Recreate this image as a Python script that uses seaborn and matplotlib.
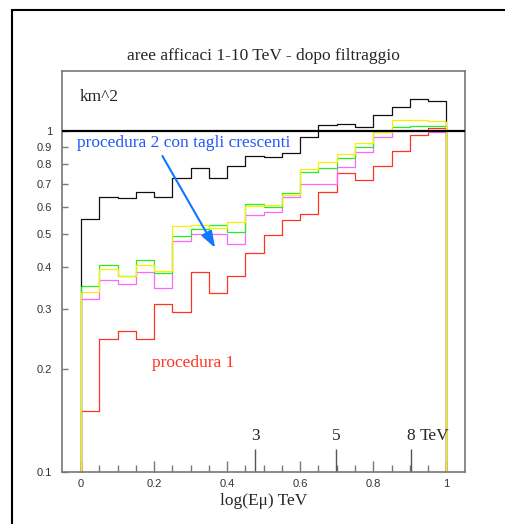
import numpy as np
import pandas as pd
import matplotlib
matplotlib.use("Agg")
import matplotlib.pyplot as plt
from matplotlib.patches import Rectangle
from matplotlib.ticker import FixedLocator
import seaborn as sns

# ---- data -------------------------------------------------------------
bin_edges = [round(v, 2) for v in np.linspace(0.0, 1.0, 21)]   # log10(E_mu / TeV)
black = [0.552, 0.641, 0.635, 0.661, 0.639, 0.726, 0.779, 0.726, 0.790, 0.847,
         0.838, 0.865, 0.963, 1.043, 1.052, 1.026, 1.116, 1.175, 1.244, 1.221]
red = [0.151, 0.245, 0.260, 0.245, 0.310, 0.294, 0.386, 0.336, 0.376, 0.438,
       0.496, 0.548, 0.571, 0.664, 0.751, 0.720, 0.792, 0.873, 0.975, 1.019]
magenta = [0.321, 0.366, 0.357, 0.387, 0.347, 0.476, 0.499, 0.499, 0.466, 0.567,
           0.580, 0.639, 0.699, 0.699, 0.787, 0.866, 0.963, 0.997, 0.997, 0.992]
green = [0.350, 0.404, 0.376, 0.418, 0.384, 0.493, 0.516, 0.530, 0.504, 0.611,
         0.600, 0.658, 0.760, 0.777, 0.832, 0.896, 0.992, 1.031, 1.038, 1.038]
yellow = [0.337, 0.395, 0.376, 0.404, 0.389, 0.527, 0.531, 0.518, 0.541, 0.601,
          0.607, 0.649, 0.774, 0.809, 0.857, 0.925, 0.992, 1.079, 1.074, 1.070]
y_ticks = [0.1, 0.2, 0.3, 0.4, 0.5, 0.6, 0.7, 0.8, 0.9, 1.0]
y_tick_labels = ["0.1", "0.2", "0.3", "0.4", "0.5", "0.6", "0.7", "0.8", "0.9", "1"]
x_ticks = [0.0, 0.2, 0.4, 0.6, 0.8, 1.0]
x_tick_labels = ["0", "0.2", "0.4", "0.6", "0.8", "1"]
energy_marks = [3, 5, 8]
energy_labels = ["3", "5", "8"]

series = [("black", black, "#111111"),
          ("red", red, "#ff3322"),
          ("magenta", magenta, "#ff66ff"),
          ("green", green, "#22ee22"),
          ("yellow", yellow, "#f5f000")]

edges_arr = np.array(bin_edges)
centers = (edges_arr[:-1] + edges_arr[1:]) / 2

# ---- figure ------------------------------------------------------------
sns.set_style("ticks")
plt.rcParams["font.family"] = ["Liberation Sans", "DejaVu Sans"]
fig = plt.figure(figsize=(5.05, 5.24), dpi=100)
ax = fig.add_axes([62 / 505, 1 - 472 / 524, 403 / 505, 401 / 524])

for name, vals, col in series:
    df = pd.DataFrame({"x": centers, "w": vals})
    sns.histplot(data=df, x="x", weights="w", bins=bin_edges, element="step",
                 fill=False, color=col, linewidth=0.9, ax=ax)

ax.set_yscale("log")
ax.set_xlim(-0.052, 1.051)
ax.set_ylim(0.1, 1.5)

# edge verticals of the histograms down to the baseline (ROOT style)
for name, vals, col in series:
    ax.vlines([bin_edges[0], bin_edges[-1]], 0.1, [vals[0], vals[-1]],
              colors=col, linewidth=0.9)

# horizontal reference at 1 km^2
ax.axhline(1.0, color="black", linewidth=1.6, zorder=5)

# ticks
ax.yaxis.set_major_locator(FixedLocator(y_ticks))
ax.set_yticklabels(y_tick_labels)
ax.yaxis.set_minor_locator(FixedLocator([]))
ax.set_xticks(x_ticks)
ax.set_xticklabels(x_tick_labels)
ax.xaxis.set_minor_locator(FixedLocator(np.arange(0.05, 1.0, 0.05)))
ax.tick_params(axis="both", which="both", direction="in", colors="#777777",
               labelcolor="#333333", labelsize=8, bottom=True, left=True,
               top=False, right=False)
ax.tick_params(axis="x", which="major", length=8, width=1, pad=5)
ax.tick_params(axis="x", which="minor", length=5, width=1)
ax.tick_params(axis="y", which="major", length=4, width=1, pad=7)
ax.set_ylabel("")
for sp in ax.spines.values():
    sp.set_visible(True)
    sp.set_color("#777777")
    sp.set_linewidth(1.2)

serif = ["Liberation Serif", "DejaVu Serif"]
fs = 12.5
ax.set_title("aree afficaci 1-10 TeV - dopo filtraggio", fontsize=fs,
             family=serif, pad=8)
ax.set_xlabel("log(E\u03bc) TeV", fontsize=fs, family=serif, labelpad=3)

# energy markers in TeV
ex = np.log10(energy_marks)
ax.vlines(ex, 0, 0.057, transform=ax.get_xaxis_transform(), colors="#555555",
          linewidth=1)
for xv, lab in zip(ex, energy_labels):
    ax.text(xv, 0.09, lab, transform=ax.get_xaxis_transform(), ha="center",
            va="center", fontsize=fs, family=serif)
ax.text(0.968, 0.09, "TeV", transform=ax.get_xaxis_transform(), ha="center",
        va="center", fontsize=fs, family=serif)

# annotations
ax.text(0.045, 0.935, "km^2", transform=ax.transAxes, ha="left", va="center",
        fontsize=fs, family=serif)
ax.text(0.037, 0.820, "procedura 2 con tagli crescenti", transform=ax.transAxes,
        ha="left", va="center", fontsize=fs, family=serif, color="#2255ff")
ax.text(0.223, 0.272, "procedura 1", transform=ax.transAxes, ha="left",
        va="center", fontsize=fs, family=serif, color="#ff3322")
ax.annotate("", xy=(0.371, 0.447), xytext=(0.219, 0.859),
            arrowprops=dict(arrowstyle="-|>,head_length=1.0,head_width=0.35",
                            color="#1177ff", lw=1.5))

# outer page border
fig.patches.append(Rectangle((12 / 505, -0.1), 1.2, 1 - 10 / 524 + 0.1,
                             transform=fig.transFigure, fill=False,
                             edgecolor="black", linewidth=1.5))

fig.savefig("out.png", dpi=100)
